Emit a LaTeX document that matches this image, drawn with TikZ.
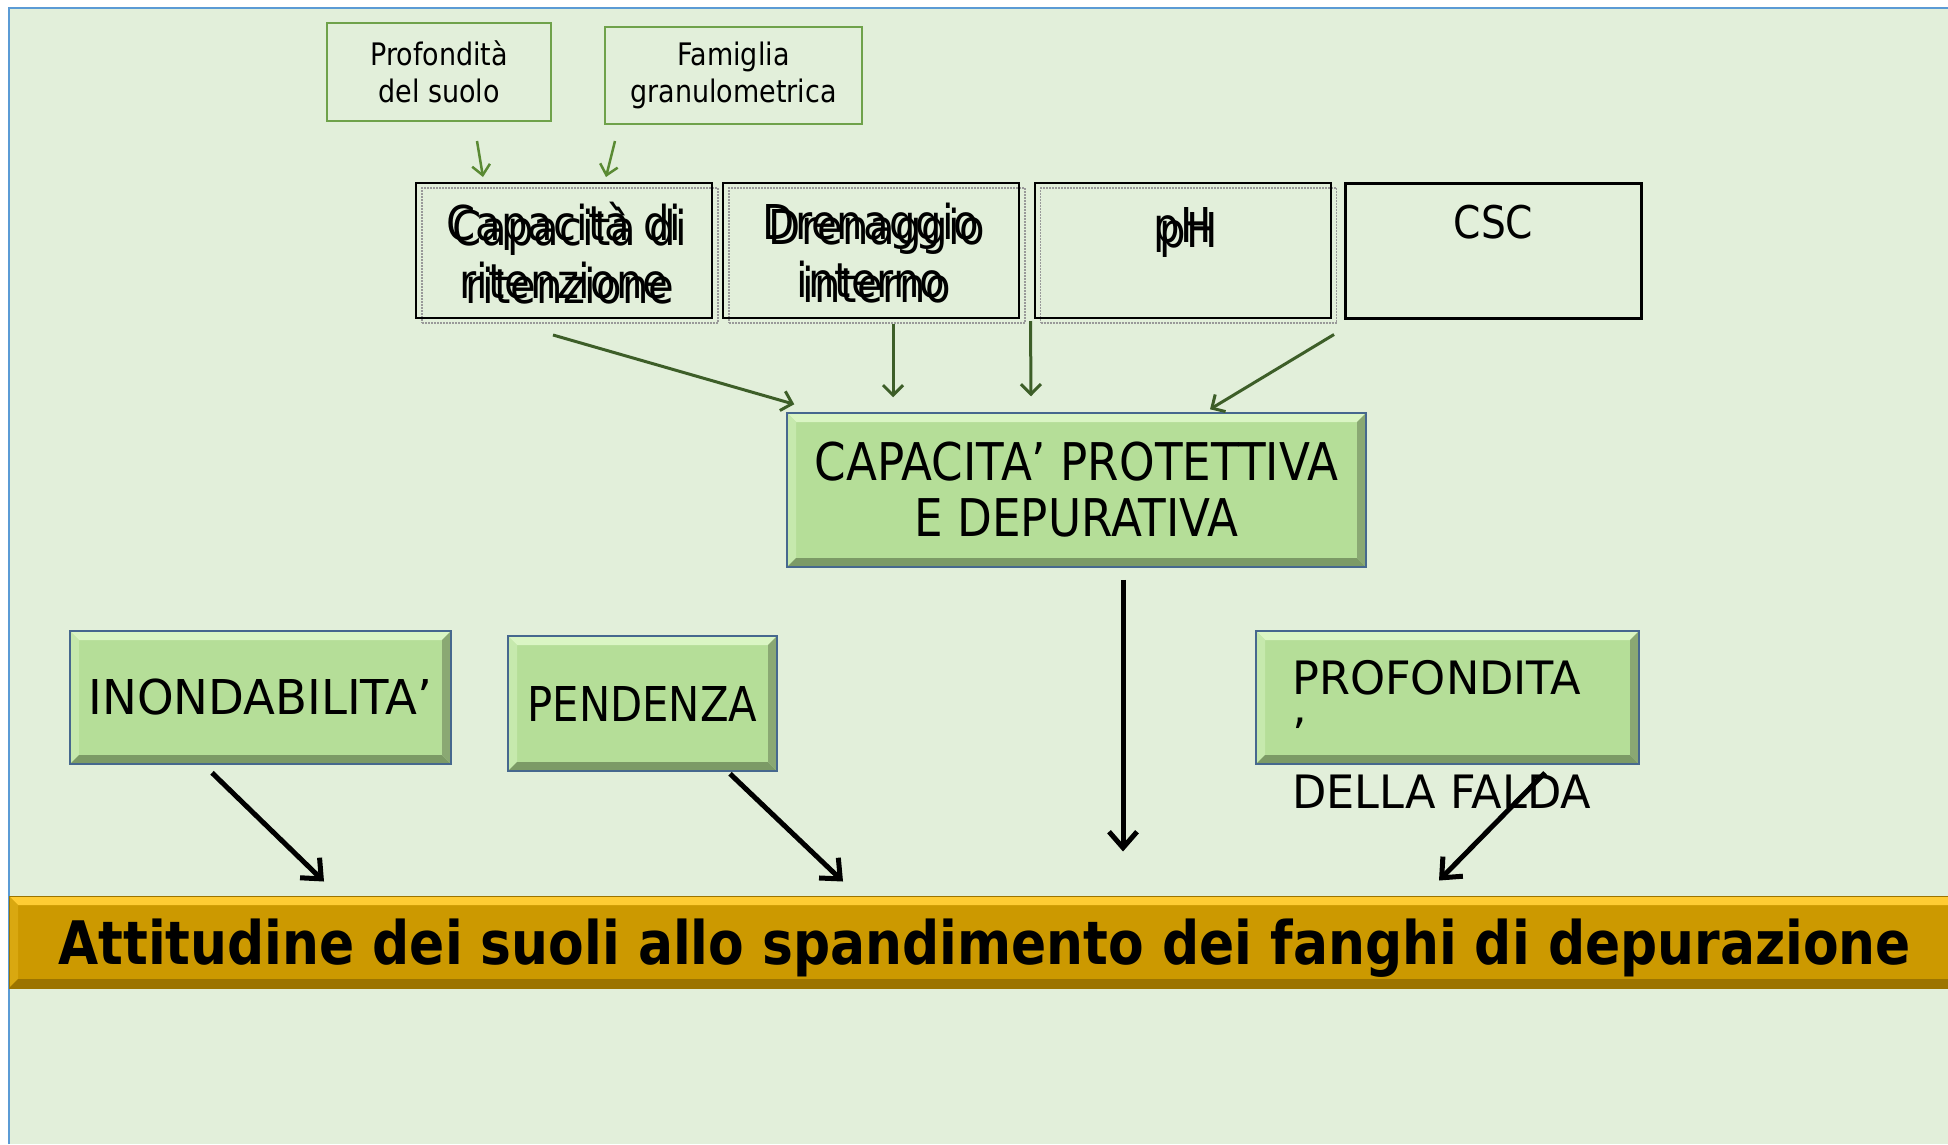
\documentclass[tikz,border=0pt]{standalone}
\usepackage{fontspec}
\setmainfont{DejaVu Sans}[FakeStretch=0.87]
\newfontfamily\barfont{DejaVu Sans}[FakeStretch=0.865]
\newfontfamily\widefont{DejaVu Sans}[FakeStretch=0.97]
\usetikzlibrary{arrows.meta}

\definecolor{bggreen}{HTML}{E2EFDA}
\definecolor{frameblue}{HTML}{5B9BD5}
\definecolor{smallgreen}{HTML}{6FA24A}
\definecolor{arrgreen}{HTML}{5A8A33}
\definecolor{darkarr}{HTML}{3D5E28}
\definecolor{boxfill}{HTML}{B5DE98}
\definecolor{boxlight}{HTML}{DAF5C4}
\definecolor{boxside}{HTML}{C6E9AD}
\definecolor{boxdark}{HTML}{7C9A66}
\definecolor{boxright}{HTML}{8AA873}
\definecolor{boxline}{HTML}{46688E}
\definecolor{gold}{HTML}{CC9900}
\definecolor{goldlight}{HTML}{FFCC33}
\definecolor{goldside}{HTML}{D9A810}
\definecolor{golddark}{HTML}{9C7400}

\tikzset{
  bevel/.style n args={4}{path picture={
    \fill[#1] (path picture bounding box.north west) -- (path picture bounding box.north east)
      -- ([shift={(-9pt,-9pt)}]path picture bounding box.north east)
      -- ([shift={(9pt,-9pt)}]path picture bounding box.north west) -- cycle;
    \fill[#2] (path picture bounding box.north west) -- ([shift={(9pt,-9pt)}]path picture bounding box.north west)
      -- ([shift={(9pt,9pt)}]path picture bounding box.south west)
      -- (path picture bounding box.south west) -- cycle;
    \fill[#3] (path picture bounding box.south west) -- ([shift={(9pt,9pt)}]path picture bounding box.south west)
      -- ([shift={(-9pt,9pt)}]path picture bounding box.south east)
      -- (path picture bounding box.south east) -- cycle;
    \fill[#4] (path picture bounding box.south east) -- ([shift={(-9pt,9pt)}]path picture bounding box.south east)
      -- ([shift={(-9pt,-9pt)}]path picture bounding box.north east)
      -- (path picture bounding box.north east) -- cycle;
  }},
  smallbox/.style={draw=smallgreen, line width=2pt, align=center, inner sep=0pt,
    font=\fontsize{31}{37}\selectfont},
  blackbox/.style={draw=black, line width=2pt, align=center, inner sep=0pt,
    minimum width=296pt, minimum height=135pt, font=\fontsize{48}{58}\selectfont},
  shadowbox/.style={blackbox, draw=gray!80, densely dotted, line width=1.2pt},
  greenbox/.style={draw=boxline, line width=1.5pt, fill=boxfill, inner sep=0pt, align=center,
    bevel={boxlight}{boxside}{boxdark}{boxright}, font=\fontsize{48}{57}\selectfont},
  goldbar/.style={draw=golddark, line width=1pt, fill=gold, inner sep=0pt,
    bevel={goldlight}{goldside}{golddark}{golddark}, font=\barfont\bfseries\fontsize{60}{64}\selectfont},
  greenarr/.style={draw=arrgreen, line width=2.5pt, -{Straight Barb[length=10pt,width=18pt]}},
  darkgarr/.style={draw=darkarr, line width=3pt, -{Straight Barb[length=10pt,width=20pt]}},
  blackarr/.style={draw=black, line width=5pt, -{Straight Barb[length=16pt,width=28pt]}}
}

\begin{document}
\begin{tikzpicture}[x=1pt,y=-1pt]
\useasboundingbox (0,0) rectangle (1948,1144);
\fill[white] (0,0) rectangle (1948,1144);
\fill[bggreen] (9,8) rectangle (1948,1144);
\draw[frameblue, line width=2pt] (9,1144) -- (9,8) -- (1948,8);

% top row
\node[smallbox, minimum width=224pt, minimum height=98pt] (prof) at (439,72) {Profondità\\del suolo};
\node[smallbox, minimum width=257pt, minimum height=97pt] (fam) at (733.5,75.5) {Famiglia\\granulometrica};

\node[shadowbox] (capsh) at (570,255.5) {Capacità di\\ritenzione};
\node[blackbox] (cap) at (564,250.5) {Capacità di\\ritenzione};
\node[shadowbox] (drensh) at (877,255.5) {Drenaggio\\interno};
\node[blackbox] (dren) at (871,250.5) {Drenaggio\\interno};
\node[shadowbox, text height=59pt, text depth=76pt] (phsh) at (1188.5,255.5) {pH};
\node[blackbox, text height=59pt, text depth=76pt] (ph) at (1182.5,250.5) {pH};
\node[blackbox, line width=3pt, text height=55pt, text depth=80pt, font=\fontsize{45}{54}\selectfont] (csc) at (1493.5,250.5) {CSC};

\node[greenbox, minimum width=579pt, minimum height=154pt, font=\fontsize{52}{56}\selectfont] (protect) at (1076.5,490)
  {CAPACITA’ PROTETTIVA\\E DEPURATIVA};

% middle row
\node[greenbox, minimum width=381pt, minimum height=133pt, font=\widefont\fontsize{48}{57}\selectfont] (inond) at (260.5,697.5) {INONDABILITA’};
\node[greenbox, minimum width=269pt, minimum height=135pt] (pend) at (642.5,703.5) {PENDENZA};
\node[greenbox, minimum width=383pt, minimum height=133pt] (falda) at (1447.5,697.5) {};
\node[anchor=north west, inner sep=0pt, align=left, font=\widefont\fontsize{46}{57}\selectfont] (faldatxt) at (1292,660)
  {PROFONDITA\\’\\DELLA FALDA};

\node[goldbar, minimum width=1951pt, minimum height=92pt, text height=57pt, text depth=12pt] (attit) at (984.5,942)
  {Attitudine dei suoli allo spandimento dei fanghi di depurazione};

\draw[greenarr] ([xshift=38pt,yshift=-19pt]prof.south) -- ([xshift=-81pt,yshift=5pt]cap.north);
\draw[greenarr] ([xshift=-118.5pt,yshift=-16pt]fam.south) -- ([xshift=42pt,yshift=5pt]cap.north);

\draw[darkgarr] ([xshift=-11pt,yshift=-16pt]cap.south) -- ([xshift=8pt,yshift=8pt]protect.north west);
\draw[darkgarr] ([xshift=22pt,yshift=-5pt]dren.south) -- ([xshift=-183.5pt,yshift=15pt]protect.north);
\draw[darkgarr] ([xshift=-3pt,yshift=-2pt]ph.south west) -- ([xshift=-45.5pt,yshift=16pt]protect.north);
\draw[darkgarr] ([xshift=-10pt,yshift=-15pt]csc.south west) -- ([xshift=133.5pt,yshift=3pt]protect.north);

\draw[blackarr] ([xshift=46.5pt,yshift=-12pt]protect.south) -- ([xshift=138.5pt,yshift=44pt]attit.north);
\draw[blackarr] ([xshift=-48.5pt,yshift=-8pt]inond.south) -- ([xshift=-660.5pt,yshift=14pt]attit.north);
\draw[blackarr] ([xshift=87.5pt,yshift=-2pt]pend.south) -- ([xshift=-141.5pt,yshift=14pt]attit.north);
\draw[blackarr] ([xshift=97.5pt,yshift=-8pt]falda.south) -- ([xshift=454.5pt,yshift=15pt]attit.north);
\end{tikzpicture}
\end{document}
